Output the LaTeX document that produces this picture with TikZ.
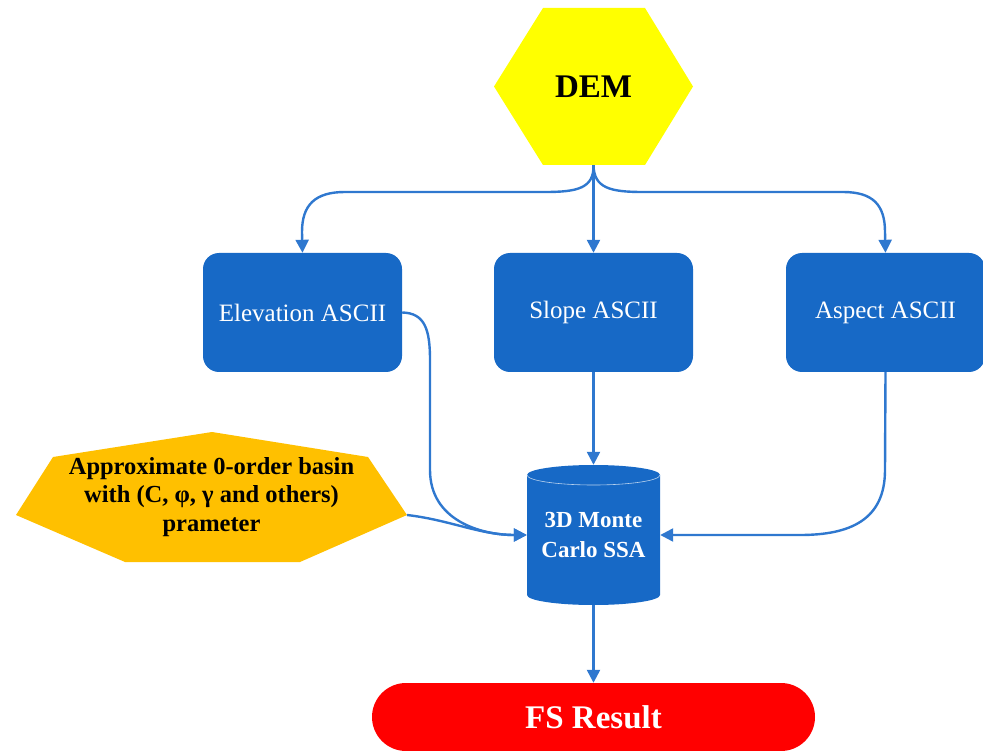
\documentclass[tikz,border=0pt]{standalone}
\usepackage{fontspec}
\setmainfont{Liberation Serif}
\usetikzlibrary{arrows.meta}
\definecolor{boxblue}{HTML}{1769C6}
\definecolor{lineblue}{HTML}{2F78CF}
\definecolor{demyellow}{HTML}{FFFF00}
\definecolor{apxorange}{HTML}{FFC000}
\definecolor{fsred}{HTML}{FF0000}
\tikzset{
  conn/.style={draw=lineblue, line width=2.4pt, -{Triangle[length=13pt,width=13pt]}},
  asciibox/.style={fill=boxblue, rounded corners=16pt, minimum width=199pt, minimum height=119pt,
    inner sep=0pt, text=white, font=\fontsize{25}{30}\selectfont},
  area/.style={inner sep=0pt, align=center}
}
\begin{document}
\begin{tikzpicture}[x=1pt,y=-1pt]
\useasboundingbox (0,0) rectangle (983,751);
% DEM hexagon
\fill[demyellow] (494,86.5)--(543,8)--(645,8)--(693,86.5)--(645,165)--(543,165)--cycle;
\node[area, minimum width=199pt, minimum height=157pt, font=\bfseries\fontsize{33}{38}\selectfont] (dem) at (593.5,86.5) {DEM};
% ASCII boxes
\node[asciibox] (elev) at (302.5,312.5) {Elevation ASCII};
\node[asciibox] (slope) at (593.5,312.5) {Slope ASCII};
\node[asciibox] (aspect) at (885.5,312.5) {Aspect ASCII};
% parameter polygon
\fill[apxorange] (212,432)--(368,457)--(407,515)--(300,562)--(125,562)--(16,515)--(53,457)--cycle;
\coordinate (apxr) at (407,515);
\node[area, minimum width=391pt, minimum height=130pt, font=\bfseries\fontsize{24.5}{28.5}\selectfont] (apx) at (211.5,497)
  {Approximate 0-order basin\\with (C, φ, γ and others)\\prameter};
% cylinder
\fill[boxblue] (527,475) -- (527,595) arc[start angle=180,end angle=360,x radius=66.5pt,y radius=10pt]
  -- (660,475) arc[start angle=0,end angle=180,x radius=66.5pt,y radius=10pt] -- cycle;
\draw[white!70!boxblue, line width=0.6pt] (527,475) arc[start angle=180,end angle=360,x radius=66.5pt,y radius=10pt];
\node[area, minimum width=133pt, minimum height=140pt, text=white, font=\bfseries\fontsize{23}{30}\selectfont] (cyl) at (593.5,535)
  {3D Monte\\Carlo SSA};
% FS result
\node[fill=fsred, rounded corners=34pt, minimum width=443pt, minimum height=68pt, inner sep=0pt, text=white,
  font=\bfseries\fontsize{33}{38}\selectfont] (fs) at (593.5,717) {FS Result};
% connectors
\draw[conn] (dem.south) .. controls (594,188) and (578,192) .. (545,192) -- (345,192)
  .. controls (315,192) and (302,205) .. (302,232) -- (elev.north);
\draw[conn] (dem.south) -- (slope.north);
\draw[conn] (dem.south) .. controls (594,188) and (610,192) .. (643,192) -- (843,192)
  .. controls (873,192) and (885,205) .. (885,232) -- (aspect.north);
\draw[conn] (elev.east) .. controls (425,313) and (430,330) .. (430,360) -- (430,470)
  .. controls (430,520) and (480,535) .. (cyl.west);
\draw[conn] (apxr) .. controls (450,520) and (480,535) .. (cyl.west);
\draw[conn] (slope.south) -- (cyl.north);
\draw[conn] (aspect.south) -- (885,470) .. controls (885,520) and (850,535) .. (800,535) -- (cyl.east);
\draw[conn] (cyl.south) -- (fs.north);
\end{tikzpicture}
\end{document}
